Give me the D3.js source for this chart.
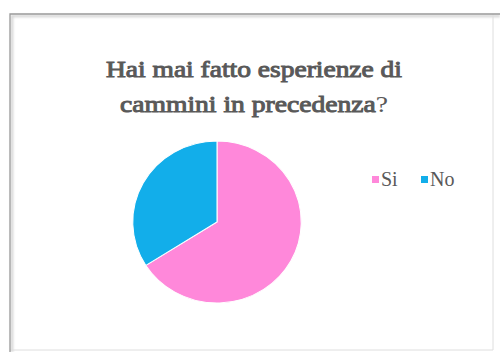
<!DOCTYPE html>
<html>
<head>
<meta charset="utf-8">
<script src="https://cdn.jsdelivr.net/npm/d3@7/dist/d3.min.js"></script>
<style>
  html, body { margin: 0; padding: 0; background: #ffffff; }
  svg { display: block; }
  .serif { font-family: "Times New Roman", "Liberation Serif", "Tinos", serif; }
</style>
</head>
<body>
<div id="chart"></div>
<script>
// Survey answers: "Have you walked a cammino before?"
const categories = ["Si", "No"];
const values = [66, 34];
const colors = ["#ff88da", "#12aeea"];
const titleLines = ["Hai mai fatto esperienze di", "cammini in precedenza"];

const W = 500, H = 352;
const svg = d3.select("#chart").append("svg")
  .attr("width", W).attr("height", H);

const defs = svg.append("defs");
const sh = defs.append("filter").attr("id", "soft")
  .attr("x", "-20%").attr("y", "-20%").attr("width", "140%").attr("height", "140%");
sh.append("feGaussianBlur").attr("stdDeviation", 1.3);

// Chart frame: dark top/left edges with a soft shadow, pale right/bottom edges
const fx = 10, fy = 14, fr = 493, fb = 350;
svg.append("rect")
  .attr("x", fx).attr("y", fy).attr("width", fr - fx).attr("height", fb - fy)
  .attr("fill", "#ffffff");
const edges = svg.append("g").attr("fill", "none");
edges.append("path")
  .attr("d", `M${fx + 2},${H} L${fx + 2},${fy + 2} L${W},${fy + 2}`)
  .attr("stroke", "#d4d4d4").attr("stroke-width", 2.5).attr("filter", "url(#soft)");
edges.append("path")
  .attr("d", `M${fr},${fy} L${fr},${fb} L${fx},${fb}`)
  .attr("stroke", "#dedede").attr("stroke-width", 1);
edges.append("path")
  .attr("d", `M${fx},${H} L${fx},${fy} L${W},${fy}`)
  .attr("stroke", "#9a9a9a").attr("stroke-width", 1.3);

// Title (regular serif thickened with a matching stroke)
const title = svg.append("text")
  .attr("class", "serif")
  .attr("text-anchor", "middle")
  .attr("font-size", 23)
  .attr("fill", "#595959")
  .attr("stroke", "#595959")
  .attr("stroke-width", 0.95);
title.append("tspan").attr("x", 254).attr("y", 77)
  .attr("textLength", 296).attr("lengthAdjust", "spacingAndGlyphs")
  .text(titleLines[0]);
const l2 = title.append("tspan").attr("x", 254).attr("y", 112)
  .attr("textLength", 268).attr("lengthAdjust", "spacingAndGlyphs");
l2.append("tspan").text(titleLines[1]);
l2.append("tspan").attr("stroke-width", 0).text("?");

// Pie
const cx = 217, cy = 222, r = 81;
const pie = d3.pie().sort(null).value(d => d.value);
const arc = d3.arc().innerRadius(0).outerRadius(r);
const data = categories.map((c, i) => ({ name: c, value: values[i], color: colors[i] }));

const g = svg.append("g")
  .attr("transform", `translate(${cx},${cy}) scale(1.04,1)`);
g.selectAll("path").data(pie(data)).join("path")
  .attr("d", arc)
  .attr("fill", d => d.data.color)
  .attr("stroke", "#ffffff")
  .attr("stroke-width", 1);

// Legend
const legend = svg.append("g")
  .attr("class", "serif")
  .attr("font-size", 20)
  .attr("fill", "#595959");
const legendX = [372, 421];
data.forEach((d, i) => {
  legend.append("rect")
    .attr("x", legendX[i]).attr("y", 176)
    .attr("width", 7).attr("height", 7)
    .attr("fill", d.color);
  legend.append("text")
    .attr("x", legendX[i] + 9).attr("y", 185.5)
    .text(d.name);
});
</script>
</body>
</html>
